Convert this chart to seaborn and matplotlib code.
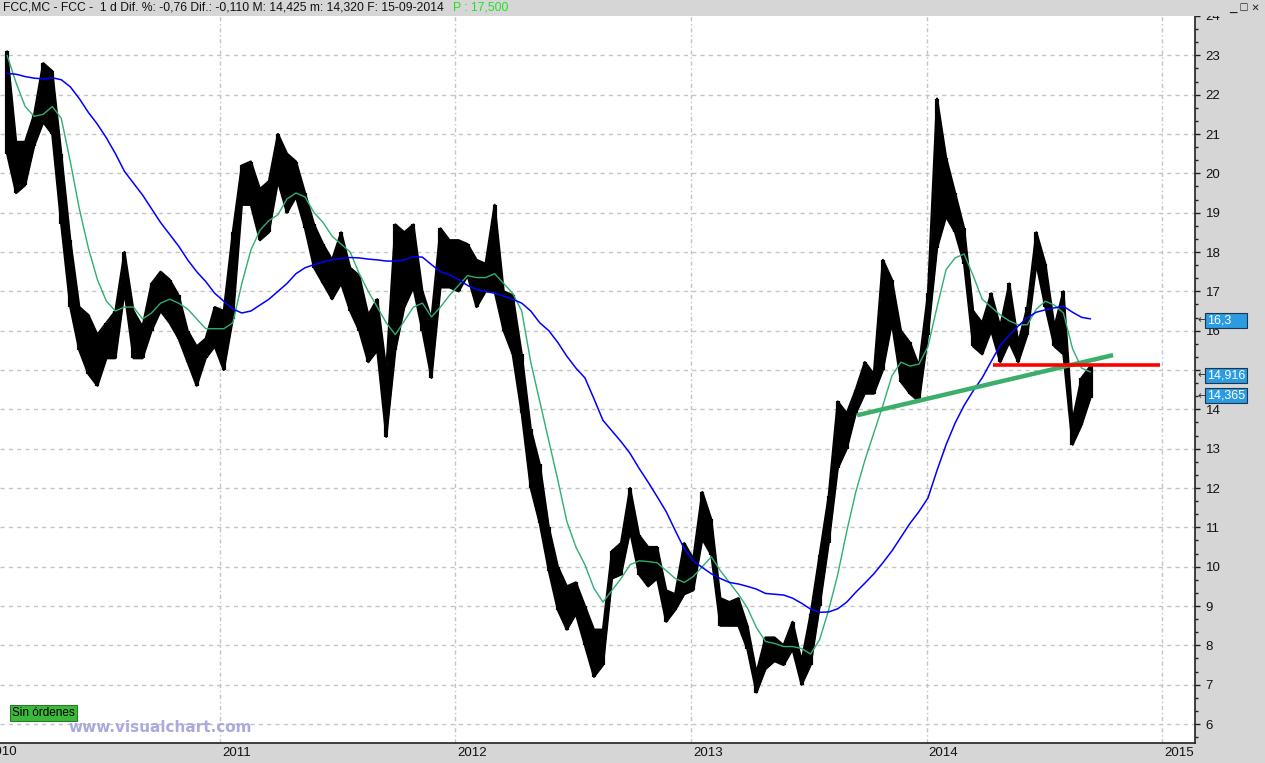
import matplotlib
matplotlib.use('Agg')
import numpy as np
import pandas as pd
import seaborn as sns
import matplotlib.pyplot as plt
import matplotlib.transforms as mtransforms
from matplotlib.patches import Rectangle
from matplotlib.ticker import MultipleLocator

##
# FCC,MC daily chart, read off every two weeks (Feb 2010 - Sep 2014)
##
start_date = '2010-02-05'

price_low = [20.5, 19.5, 19.7, 20.7, 21.3, 21.0, 18.7, 16.6, 15.5, 14.9,
             14.6, 15.3, 15.3, 17.0, 15.3, 15.3, 16.0, 16.5, 16.2, 15.8,
             15.2, 14.6, 15.3, 15.6, 15.0, 16.3, 19.2, 19.2, 18.3, 18.5,
             19.8, 19.0, 19.4, 18.6, 17.6, 17.2, 16.8, 17.2, 16.5, 16.0,
             15.2, 15.5, 13.3, 15.5, 16.6, 17.1, 16.0, 14.8, 17.1, 17.1,
             17.0, 17.4, 16.6, 17.0, 17.0, 16.0, 15.4, 13.9, 12.0, 11.1,
             9.9, 8.9, 8.4, 8.8, 8.0, 7.2, 7.5, 9.7, 9.8, 10.9,
             9.8, 9.5, 9.7, 8.6, 8.9, 9.3, 9.4, 10.7, 10.3, 8.5,
             8.5, 8.5, 7.9, 6.8, 7.4, 7.6, 7.5, 7.9, 7.0, 7.5,
             9.0, 10.6, 12.5, 13.0, 13.9, 14.4, 14.4, 15.0, 16.2, 14.7,
             14.4, 14.2, 15.9, 18.1, 18.9, 18.5, 17.7, 15.6, 15.4, 16.0,
             15.2, 15.7, 15.2, 15.9, 17.7, 16.6, 15.6, 15.4, 13.1, 13.6,
             14.3]

price_high = [23.1, 20.8, 20.8, 21.5, 22.8, 22.6, 20.5, 18.3, 16.6, 16.4,
              15.9, 16.2, 16.5, 18.0, 16.5, 16.1, 17.2, 17.5, 17.3, 16.9,
              16.0, 15.6, 15.8, 16.6, 16.5, 18.5, 20.2, 20.3, 19.6, 19.8,
              21.0, 20.5, 20.3, 19.5, 18.7, 18.2, 17.8, 18.5, 17.6, 17.4,
              16.4, 16.8, 15.0, 18.7, 18.5, 18.7, 17.0, 16.3, 18.6, 18.3,
              18.3, 18.2, 17.8, 17.7, 19.2, 17.0, 16.9, 15.4, 13.5, 12.6,
              11.0, 10.0, 9.5, 9.6, 9.0, 8.4, 8.4, 10.4, 10.6, 12.0,
              10.8, 10.5, 10.5, 9.4, 9.3, 10.6, 10.2, 11.9, 11.2, 9.2,
              9.1, 9.2, 8.5, 7.3, 8.2, 8.2, 8.0, 8.6, 7.6, 8.8,
              10.3, 11.8, 14.2, 13.9, 14.5, 15.2, 14.9, 17.8, 17.3, 16.0,
              15.7, 15.1, 16.95, 21.9, 20.4, 19.5, 18.6, 16.5, 16.2, 16.95,
              16.1, 17.2, 15.7, 16.6, 18.5, 17.7, 16.1, 17.0, 13.7, 14.8,
              15.1]

ma_fast = [23.0, 22.3, 21.7, 21.45, 21.5, 21.7, 21.4, 20.3, 19.1, 18.1,
           17.3, 16.75, 16.5, 16.6, 16.6, 16.3, 16.45, 16.7, 16.8, 16.7,
           16.55, 16.3, 16.05, 16.05, 16.05, 16.2, 17.2, 18.05, 18.55, 18.8,
           18.95, 19.35, 19.5, 19.4, 19.0, 18.75, 18.4, 18.2, 18.0, 17.45,
           17.0, 16.6, 16.2, 15.9, 16.25, 16.6, 16.7, 16.35, 16.6, 16.9,
           17.15, 17.4, 17.35, 17.35, 17.45, 17.2, 16.95, 16.5, 15.2, 14.2,
           13.2, 12.2, 11.15, 10.5, 10.05, 9.45, 9.1, 9.4, 9.7, 10.05,
           10.15, 10.13, 10.1, 9.9, 9.7, 9.6, 9.75, 10.0, 10.25, 9.9,
           9.6, 9.3, 8.95, 8.45, 8.1, 8.05, 7.97, 7.97, 7.92, 7.78,
           8.15, 8.9, 9.8, 10.9, 11.9, 12.7, 13.4, 14.1, 14.85, 15.2,
           15.1, 15.15, 15.6, 16.6, 17.55, 17.85, 17.95, 17.4, 16.8, 16.6,
           16.4, 16.25, 16.15, 16.15, 16.55, 16.75, 16.65, 16.45, 15.55, 15.05,
           14.95]

ma_slow = [22.54, 22.52, 22.46, 22.42, 22.4, 22.43, 22.38, 22.2, 21.9, 21.55,
           21.25, 20.9, 20.5, 20.05, 19.75, 19.45, 19.1, 18.75, 18.45, 18.15,
           17.8, 17.5, 17.25, 16.95, 16.75, 16.55, 16.45, 16.5, 16.65, 16.8,
           17.0, 17.2, 17.45, 17.6, 17.68, 17.75, 17.8, 17.84, 17.86, 17.85,
           17.82, 17.8, 17.77, 17.77, 17.8, 17.88, 17.87, 17.68, 17.5, 17.42,
           17.3, 17.15, 17.05, 17.0, 16.95, 16.88, 16.8, 16.7, 16.5, 16.2,
           16.0, 15.7, 15.35, 15.05, 14.8, 14.27, 13.72, 13.45, 13.18, 12.88,
           12.5, 12.15, 11.78, 11.4, 10.92, 10.46, 10.15, 9.98, 9.82, 9.7,
           9.6, 9.56, 9.5, 9.43, 9.32, 9.3, 9.28, 9.2, 9.07, 8.92,
           8.84, 8.85, 8.93, 9.1, 9.35, 9.58, 9.82, 10.1, 10.4, 10.75,
           11.1, 11.4, 11.75, 12.45, 13.1, 13.65, 14.1, 14.47, 14.8, 15.22,
           15.63, 15.88, 16.12, 16.33, 16.47, 16.53, 16.58, 16.62, 16.47, 16.34,
           16.3]

# hand drawn lines
trend_dates = ['2013-09-15', '2014-10-17']
trend_values = [13.85, 15.38]
support_dates = ['2014-04-14', '2014-12-28']
support_values = [15.12, 15.12]

# boxes on the price scale (value where the box sits, text)
box_values = [16.27, 14.87, 14.34]
box_labels = ['16,3', '14,916', '14,365']

year_ticks = [2011, 2012, 2013, 2014, 2015]
# the 15 label sits under the 14,916 box, so it is not visible
price_ticks = list(range(6, 25))
price_tick_labels = ['' if v == 15 else str(v) for v in price_ticks]

title_text = 'FCC,MC - FCC -  1 d Dif. %: -0,76 Dif.: -0,110 M: 14,425 m: 14,320 F: 15-09-2014'
title_price = 'P : 17,500'

##
# build frame
##
dates = pd.date_range(start_date, periods=len(price_low), freq='14D')
df = pd.DataFrame({'date': dates, 'low': price_low, 'high': price_high,
                   'ma_fast': ma_fast, 'ma_slow': ma_slow})

sns.set_style('white')
plt.rcParams['font.family'] = ['Liberation Sans', 'DejaVu Sans']

W, H = 1265, 763
BG = '#d6d6d6'
fig = plt.figure(figsize=(W / 100, H / 100), dpi=100, facecolor=BG)
ax = fig.add_axes([0, 20 / H, 1195 / W, 727 / H])
ax.set_facecolor('white')

# price trace: band between lows and highs
ax.fill_between(df['date'], df['low'], df['high'], color='black', lw=0, zorder=3)
ax.vlines(df['date'], df['low'], df['high'], color='black', lw=3, zorder=3)
sns.lineplot(data=df, x='date', y='low', color='black', lw=1.6, ax=ax, zorder=3)
sns.lineplot(data=df, x='date', y='high', color='black', lw=1.6, ax=ax, zorder=3)

# moving averages
sns.lineplot(data=df, x='date', y='ma_fast', color='#2fae72', lw=1.0, ax=ax, zorder=4)
sns.lineplot(data=df, x='date', y='ma_slow', color='#0000ff', lw=1.1, ax=ax, zorder=4)

# trend and support lines
ax.plot(pd.to_datetime(trend_dates), trend_values, color='#3aae6a', lw=3.2,
        solid_capstyle='butt', zorder=5)
ax.plot(pd.to_datetime(support_dates), support_values, color='#ff0000', lw=2.6,
        solid_capstyle='butt', zorder=5)

ax.set_xlim(pd.Timestamp('2010-01-25'), pd.Timestamp('2015-02-21'))
ax.set_ylim(5.518, 23.97)
ax.set_xlabel('')
ax.set_ylabel('')

# grid
for v in range(6, 24):
    ax.axhline(v, color='#c4c4c4', lw=1, dashes=(3, 3), zorder=1)
for yr in year_ticks:
    ax.axvline(pd.Timestamp(f'{yr}-01-01'), color='#c4c4c4', lw=1,
               dashes=(3, 2, 1, 2), zorder=1)

# axes
for s in ['left', 'top']:
    ax.spines[s].set_visible(False)
ax.spines['right'].set_color('#202020')
ax.spines['bottom'].set_color('#202020')
ax.spines['right'].set_linewidth(1.2)
ax.spines['bottom'].set_linewidth(1.2)

ax.yaxis.tick_right()
ax.set_yticks(price_ticks)
ax.set_yticklabels(price_tick_labels)
ax.yaxis.set_minor_locator(MultipleLocator(1 / 3))
ax.tick_params(axis='y', which='major', direction='out', length=3.6, width=1,
               color='#202020', pad=4, labelsize=9.5, labelcolor='#111111')
ax.tick_params(axis='y', which='minor', direction='out', length=2.2, width=1,
               color='#202020')

ax.set_xticks([pd.Timestamp(f'{yr}-01-01') for yr in year_ticks])
ax.set_xticklabels([str(yr) for yr in year_ticks])
ax.tick_params(axis='x', direction='out', length=6, width=1, color='#202020',
               pad=-3, labelsize=9.5, labelcolor='#111111')
shift = mtransforms.ScaledTranslation(2 / 100, 0, fig.dpi_scale_trans)
for lab in ax.get_xticklabels():
    lab.set_horizontalalignment('left')
    lab.set_transform(lab.get_transform() + shift)
fig.text(-13 / W, 1 - 746 / H, '2010', fontsize=9.5, color='#111111',
         ha='left', va='top')

# value boxes on the price scale, fixed size 42 x 15 px
ytr = ax.get_yaxis_transform()
box_w = 42 / 1195
box_h = 15 / 39.4
for v, lab in zip(box_values, box_labels):
    ax.text(1.002, v, '←', transform=ytr, fontsize=8, color='#333333',
            ha='left', va='center', clip_on=False, zorder=6, family='DejaVu Sans')
    ax.add_patch(Rectangle((1.0084, v - box_h / 2), box_w, box_h, transform=ytr,
                           fc='#2b9ce2', ec='#1d3550', lw=0.8, clip_on=False, zorder=6))
    ax.text(1.0105, v, lab, transform=ytr, fontsize=9, color='white',
            ha='left', va='center', clip_on=False, zorder=7)

# title bar drawn over the cut "24" label
fig.add_artist(Rectangle((0, 1 - 16 / H), 1, 16 / H, transform=fig.transFigure,
                         fc=BG, ec='none', zorder=10))
fig.text(3 / W, 1 - 8 / H, title_text, fontsize=8.7, color='#111111',
         ha='left', va='center', zorder=11)
fig.text(453 / W, 1 - 8 / H, title_price, fontsize=8.7, color='#22e022',
         ha='left', va='center', zorder=11)
fig.text(1229 / W, 1 - 8 / H, '▁ ☐ ✕', fontsize=7, color='#222222',
         ha='left', va='center', zorder=11, family='DejaVu Sans')

# bottom-left labels
fig.text(12 / W, 1 - 713 / H, 'Sin órdenes', fontsize=8.5, color='black',
         ha='left', va='center', zorder=11,
         bbox=dict(boxstyle='square,pad=0.2', fc='#3cb83c', ec='#2a7a2a', lw=0.8))
fig.text(160 / W, 1 - 727 / H, 'www.visualchart.com', fontsize=11, color='#aaaadc',
         fontweight='bold', ha='center', va='center', zorder=11, family='DejaVu Sans')

fig.savefig('out.png', dpi=100, facecolor=BG)
